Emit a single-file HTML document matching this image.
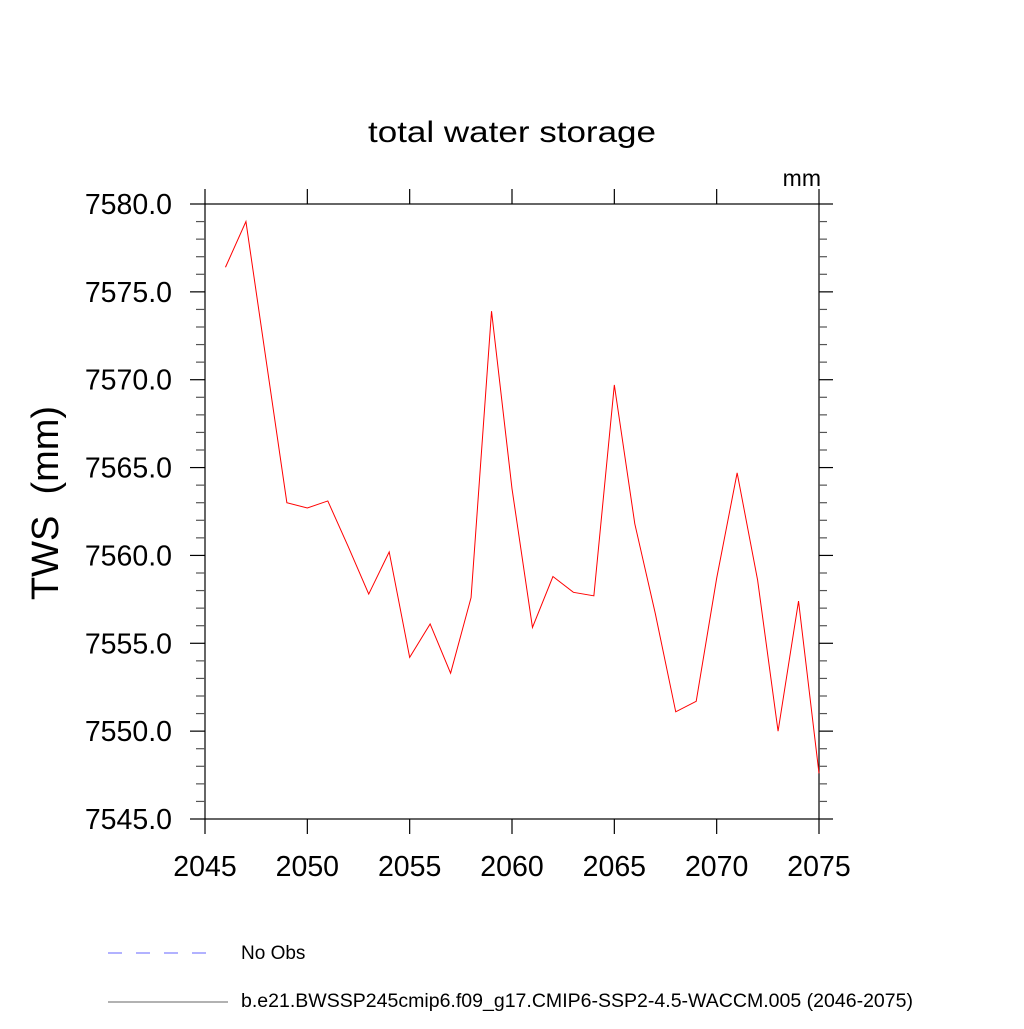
<!DOCTYPE html>
<html><head><meta charset="utf-8"><style>
body{margin:0;background:#fff;}
svg text{font-family:"Liberation Sans",sans-serif;}
</style></head><body>
<svg id="chart" width="1024" height="1024" viewBox="0 0 1024 1024" xmlns="http://www.w3.org/2000/svg">
<text x="512" y="142" font-size="30" text-anchor="middle" textLength="288" lengthAdjust="spacingAndGlyphs">total water storage</text>
<text x="821" y="186" font-size="23" text-anchor="end">mm</text>
<text transform="translate(58,503) rotate(-90)" font-size="38" text-anchor="middle" style="white-space:pre" xml:space="preserve">TWS  (mm)</text>
<g id="axes"></g>
<g id="series"></g>
<g>
<line x1="108" y1="953" x2="216" y2="953" stroke="#6666ff" stroke-width="1" stroke-dasharray="14,14"/>
<text x="241" y="959" font-size="19">No Obs</text>
<line x1="108" y1="1002" x2="228" y2="1002" stroke="#666" stroke-width="1"/>
<text x="241" y="1007" font-size="19" textLength="672" lengthAdjust="spacingAndGlyphs">b.e21.BWSSP245cmip6.f09_g17.CMIP6-SSP2-4.5-WACCM.005 (2046-2075)</text>
</g>
</svg>
<script>
const years=[2046,2047,2048,2049,2050,2051,2052,2053,2054,2055,2056,2057,2058,2059,2060,2061,2062,2063,2064,2065,2066,2067,2068,2069,2070,2071,2072,2073,2074,2075];
const tws=[7576.4,7579.0,7571.0,7563.0,7562.7,7563.1,7560.5,7557.8,7560.2,7554.2,7556.1,7553.3,7557.6,7573.9,7563.8,7555.9,7558.8,7557.9,7557.7,7569.7,7561.8,7556.7,7551.1,7551.7,7558.7,7564.7,7558.6,7550.0,7557.4,7547.6];
const xTicks=[2045,2050,2055,2060,2065,2070,2075];
const yTicks=[7545,7550,7555,7560,7565,7570,7575,7580];
const L=205,R=819,T=204,B=819;
const xs=v=>L+(v-2045)/30*(R-L);
const ys=v=>B-(v-7545)/35*(B-T);
const NS="http://www.w3.org/2000/svg";
const ax=document.getElementById('axes');
function ln(x1,y1,x2,y2,name,c){const l=document.createElementNS(NS,'line');
l.setAttribute('x1',x1);l.setAttribute('y1',y1);l.setAttribute('x2',x2);l.setAttribute('y2',y2);
l.setAttribute('stroke',c||'#000');l.setAttribute('stroke-width',1.2);


ax.appendChild(l);return l;}
function tx(x,y,s,anchor,name){const t=document.createElementNS(NS,'text');
t.setAttribute('x',x);t.setAttribute('y',y);t.setAttribute('font-size',28.5);t.setAttribute('text-anchor',anchor);t.textContent=s;


ax.appendChild(t);}
const fr=document.createElementNS(NS,'rect');
fr.setAttribute('x',L);fr.setAttribute('y',T);fr.setAttribute('width',R-L);fr.setAttribute('height',B-T);
fr.setAttribute('fill','none');fr.setAttribute('stroke','#000');fr.setAttribute('stroke-width',1.2);


ax.appendChild(fr);
xTicks.forEach(v=>{const x=xs(v);ln(x,B,x,B+15,'x-tick');ln(x,T,x,T-15,'x-tick-top');tx(x,B+57,String(v),'middle','x-tick-label');});
yTicks.forEach(v=>{const y=ys(v);ln(L-15,y,L,y,'y-tick');ln(R,y,R+14,y,'y-tick-right');tx(L-33,y+10,v.toFixed(1),'end','y-tick-label');});
for(let v=7545;v<=7580;v+=1){if(v%5===0)continue;const y=ys(v);ln(L-9,y,L,y,'y-minor-tick','#555');ln(R,y,R+8,y,'y-minor-tick-right','#555');}
const p=document.createElementNS(NS,'polyline');
p.setAttribute('points',years.map((y,i)=>xs(y)+','+ys(tws[i])).join(' '));
p.setAttribute('fill','none');p.setAttribute('stroke','#ff0000');p.setAttribute('stroke-width',1);


document.getElementById('series').appendChild(p);
</script>
</body></html>
